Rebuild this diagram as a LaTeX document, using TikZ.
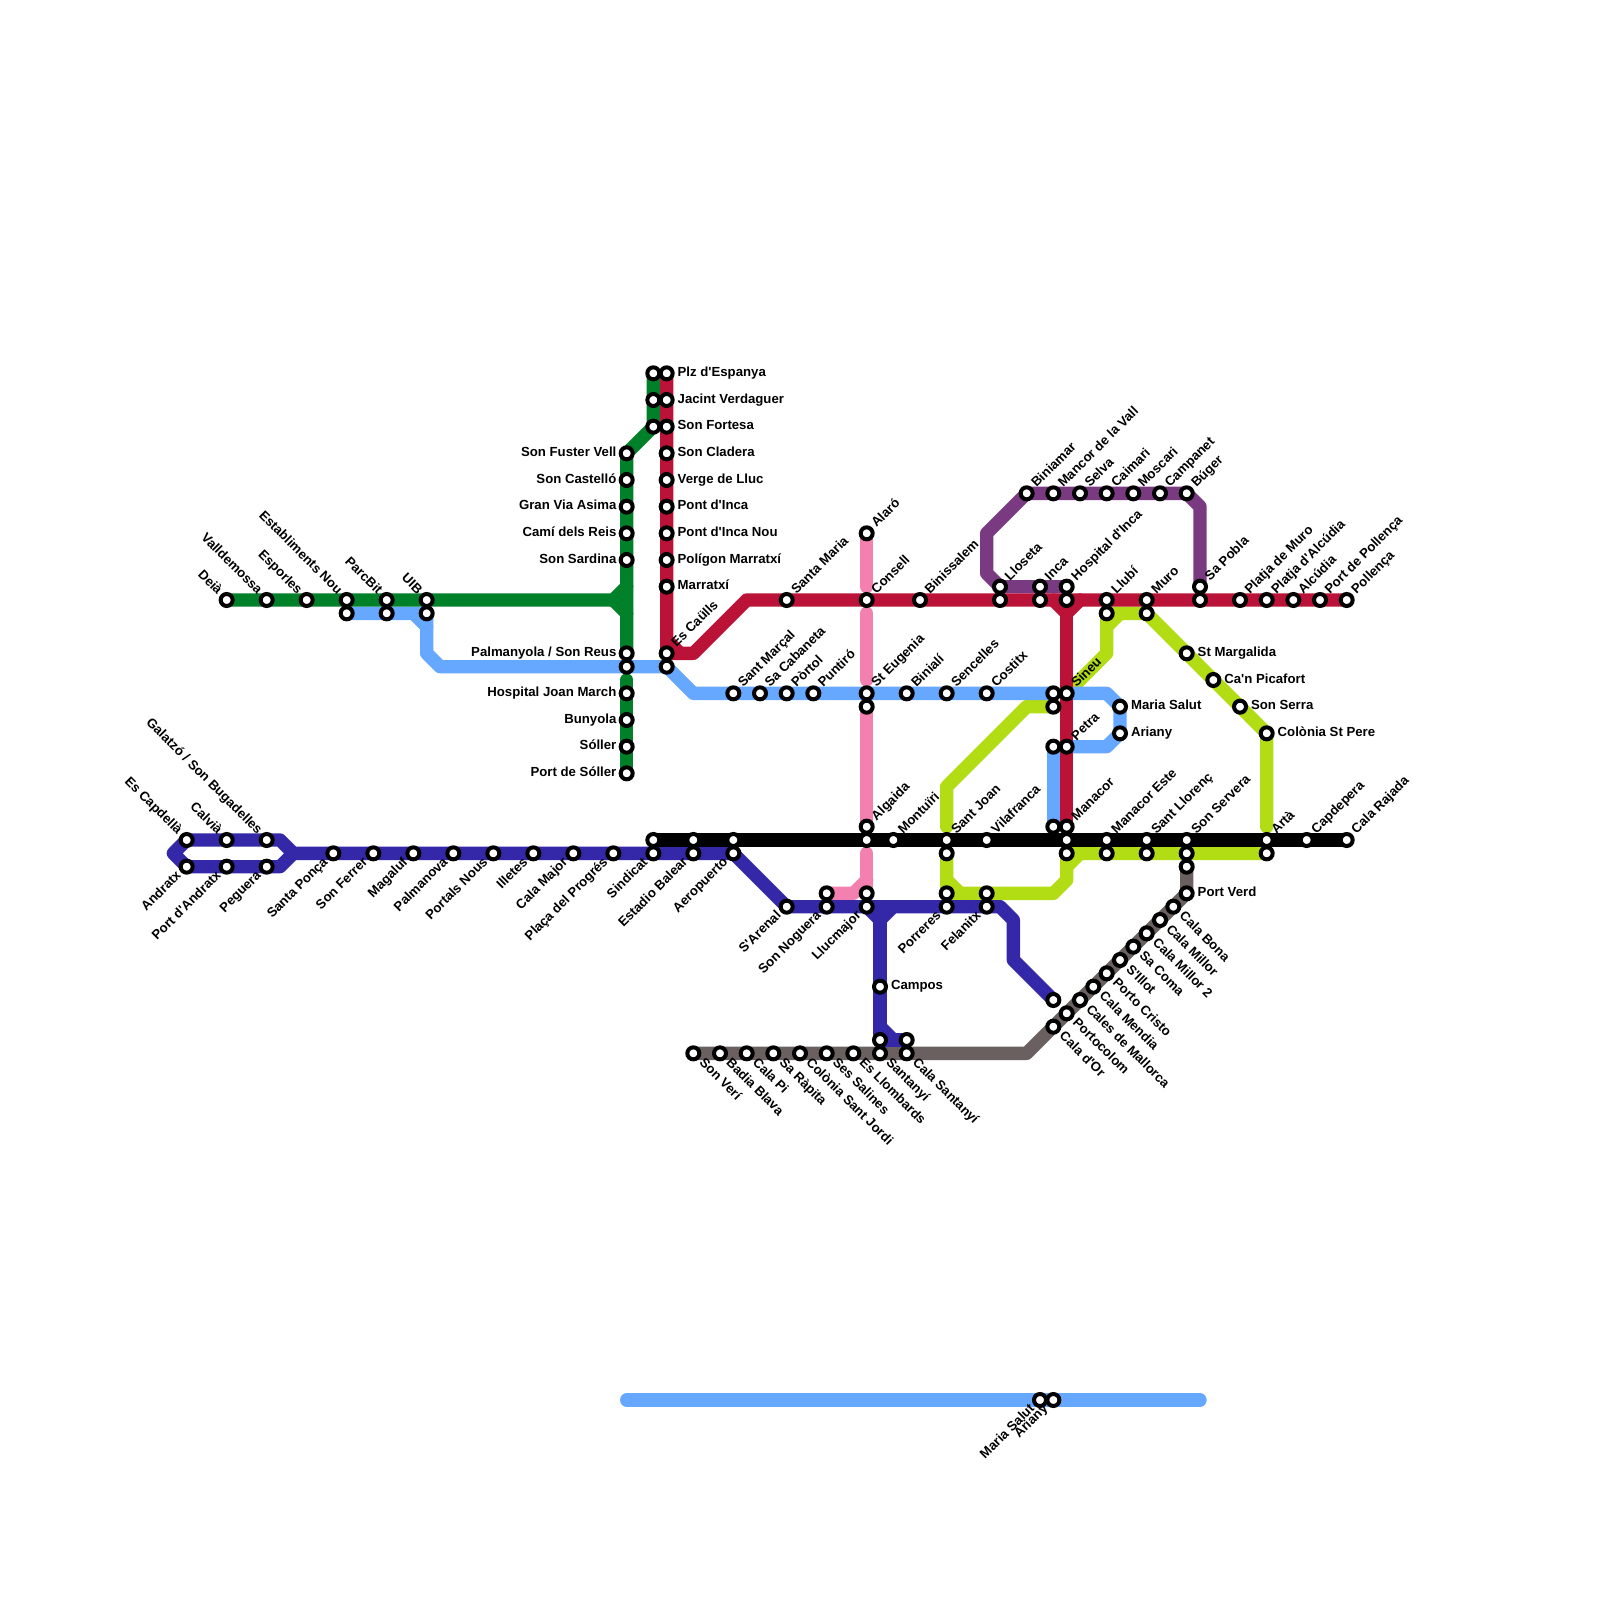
\documentclass[tikz,border=0pt]{standalone}
\usepackage{fontspec}
\usetikzlibrary{backgrounds}
\newfontfamily\mapfont{Liberation Sans}
\definecolor{linegreen}{RGB}{0,128,41}
\definecolor{linered}{RGB}{187,18,56}
\definecolor{lineblue}{RGB}{102,168,255}
\definecolor{linepink}{RGB}{244,128,176}
\definecolor{linenavy}{RGB}{52,40,168}
\definecolor{linepurple}{RGB}{122,58,130}
\definecolor{linelime}{RGB}{178,220,20}
\definecolor{linegray}{RGB}{106,96,96}
\tikzset{
    metro/.style={line width=0.2cm, line cap=round, line join=round},
    station/.style={circle, draw=black, fill=white, line width=1.71pt, minimum size=5.12pt, inner sep=0pt},
    stname/.style={font=\mapfont\bfseries\fontsize{5.63}{6}\selectfont, inner sep=0pt, text=black},
    lble/.style={stname, anchor=base west, xshift=4.5pt, yshift=-1.37pt},
    lblw/.style={stname, anchor=base east, xshift=-4.2pt, yshift=-1.37pt},
    lblne/.style={stname, anchor=base west, rotate=45, xshift=4.5pt, yshift=-1.37pt},
    lblse/.style={stname, anchor=base west, rotate=-45, xshift=4.5pt, yshift=-1.37pt},
    lblnw/.style={stname, anchor=base east, rotate=-45, xshift=-4.2pt, yshift=-1.37pt},
    lblsw/.style={stname, anchor=base east, rotate=45, xshift=-4.2pt, yshift=-1.37pt},
}

\begin{document}
\begin{tikzpicture}[x=0.2cm, y=-0.2cm]
    \useasboundingbox (0,0) rectangle (120,120);

    % Stations named to the upper left
    \foreach \sid/\sx/\sy/\stxt in {deia/17/45/Deià, valldemossa/20/45/Valldemossa, esporles/23/45/Esporles,
        establiments/26/45/Establiments Nou, parcbit/29/45/ParcBit, uib/32/45/UIB,
        capdella/14/63/Es Capdellà, calvia/17/63/Calvià, galatzo/20/63/{Galatzó / Son Bugadelles}} {
        \node[station] (\sid) at (\sx,\sy) {};
        \node[lblnw] (\sid-t) at (\sid.center) {\stxt};
    }

    % Stations named to the lower left
    \foreach \sid/\sx/\sy/\stxt in {andratx/14/65/Andratx, portandratx/17/65/Port d'Andratx, peguera/20/65/Peguera,
        santaponca/25/64/Santa Ponça, sonferrer/28/64/Son Ferrer, magaluf/31/64/Magaluf, palmanova/34/64/Palmanova,
        portals/37/64/Portals Nous, illetes/40/64/Illetes, calamajor/43/64/Cala Major, progres/46/64/Plaça del Progrés,
        sindicat/49/64/Sindicat, estadio/52/64/Estadio Balear, aeropuerto/55/64/Aeropuerto, sarenal/59/68/S'Arenal,
        sonnoguera/62/68/Son Noguera, llucmajor/65/68/Llucmajor, porreres/71/68/Porreres, felanitx/74/68/Felanitx,
        salutnew/78/105/Maria Salut, arianynew/79/105/Ariany} {
        \node[station] (\sid) at (\sx,\sy) {};
        \node[lblsw] (\sid-t) at (\sid.center) {\stxt};
    }

    % Stations named to the left
    \foreach \sid/\sx/\sy/\stxt in {sonfuster/47/34/Son Fuster Vell, castello/47/36/Son Castelló, granvia/47/38/Gran Via Asima,
        camidels/47/40/Camí dels Reis, sardina/47/42/Son Sardina, palmanyola/47/49/{Palmanyola / Son Reus},
        hospjoan/47/52/Hospital Joan March, bunyola/47/54/Bunyola, soller/47/56/Sóller, portsoller/47/58/Port de Sóller} {
        \node[station] (\sid) at (\sx,\sy) {};
        \node[lblw] (\sid-t) at (\sid.center) {\stxt};
    }

    % Stations named to the right
    \foreach \sid/\sx/\sy/\stxt in {espanya/50/28/Plz d'Espanya, jacint/50/30/Jacint Verdaguer, fortesa/50/32/Son Fortesa,
        cladera/50/34/Son Cladera, verge/50/36/Verge de Lluc, pontinca/50/38/Pont d'Inca, pontnou/50/40/Pont d'Inca Nou,
        poligon/50/42/Polígon Marratxí, marratxi/50/44/Marratxí, campos/66/74/Campos, salut/84/53/Maria Salut,
        ariany/84/55/Ariany, margalida/89/49/St Margalida, picafort/91/51/Ca'n Picafort, sonserra/93/53/Son Serra,
        stpere/95/55/Colònia St Pere, portverd/89/67/Port Verd} {
        \node[station] (\sid) at (\sx,\sy) {};
        \node[lble] (\sid-t) at (\sid.center) {\stxt};
    }

    % Stations named to the upper right
    \foreach \sid/\sx/\sy/\stxt in {caulls/50/49/Es Caülls, santamaria/59/45/Santa Maria, alaro/65/40/Alaró, consell/65/45/Consell,
        binissalem/69/45/Binissalem, biniamar/77/37/Biniamar, mancor/79/37/Mancor de la Vall, selva/81/37/Selva,
        caimari/83/37/Caimari, moscari/85/37/Moscari, campanet/87/37/Campanet, buger/89/37/Búger, lloseta/75/44/Lloseta,
        inca/78/44/Inca, hospinca/80/44/Hospital d'Inca, llubi/83/45/Llubí, muro/86/45/Muro, sapobla/90/44/Sa Pobla,
        platjamuro/93/45/Platja de Muro, platjaalc/95/45/Platja d'Alcúdia, alcudia/97/45/Alcúdia,
        portpollenca/99/45/Port de Pollença, pollenca/101/45/Pollença, marcal/55/52/Sant Marçal, cabaneta/57/52/Sa Cabaneta,
        portol/59/52/Pòrtol, puntiro/61/52/Puntiró, eugenia/65/52/St Eugenia, biniali/68/52/Binialí, sencelles/71/52/Sencelles,
        costitx/74/52/Costitx, sineu/80/52/Sineu, petra/80/56/Petra, algaida/65/62/Algaida, montuiri/67/63/Montuïri,
        santjoan/71/63/Sant Joan, vilafranca/74/63/Vilafranca, manacor/80/62/Manacor, manacoreste/83/63/Manacor Este,
        llorenc/86/63/Sant Llorenç, servera/89/63/Son Servera, arta/95/63/Artà, capdepera/98/63/Capdepera,
        rajada/101/63/Cala Rajada} {
        \node[station] (\sid) at (\sx,\sy) {};
        \node[lblne] (\sid-t) at (\sid.center) {\stxt};
    }

    % Stations named to the lower right
    \foreach \sid/\sx/\sy/\stxt in {sonveri/52/79/Son Verí, badia/54/79/Badia Blava, calapi/56/79/Cala Pi, rapita/58/79/Sa Ràpita,
        santjordi/60/79/Colònia Sant Jordi, salines/62/79/Ses Salines, llombards/64/79/Es Llombards, santanyi/66/79/Santanyí,
        calasantanyi/68/79/Cala Santanyí, calador/79/77/Cala d'Or, portocolom/80/76/Portocolom, cales/81/75/Cales de Mallorca,
        mendia/82/74/Cala Mendia, cristo/83/73/Porto Cristo, sillot/84/72/S'Illot, sacoma/85/71/Sa Coma,
        millortwo/86/70/Cala Millor 2, millor/87/69/Cala Millor, bona/88/68/Cala Bona} {
        \node[station] (\sid) at (\sx,\sy) {};
        \node[lblse] (\sid-t) at (\sid.center) {\stxt};
    }

    % Stations without a name
    \foreach \sid/\sx/\sy in {establb/26/46, parcbb/29/46, uibb/32/46, reusb/47/50, espb/49/28, jacb/49/30, fortb/49/32,
        caullsb/50/50, eugb/65/53, llosb/75/45, incab/78/45, hospb/80/45, llubb/83/46, murob/86/46, poblb/90/45,
        sineub/79/52, sineuc/79/53, petrab/79/56, manab/79/62, sindb/49/63, estb/52/63, aerob/55/63, consb/65/63,
        joanb/71/64, manac/80/63, manad/80/64, estec/83/64, llorb/86/64, servb/89/64, servc/89/65, artab/95/64,
        nogub/62/67, llucb/65/67, porrb/71/67, felb/74/67, santb/66/78, calab/68/78, navyend/79/75} {
        \node[station] (\sid) at (\sx,\sy) {};
    }

    % Free line ends
    \coordinate (pinkA) at (65,44);
    \coordinate (pinkB) at (65,46);
    \coordinate (pinkC) at (65,51);
    \coordinate (pinkD) at (65,64);
    \coordinate (greenA) at (47,51);
    \coordinate (limeA) at (71,62);
    \coordinate (limeB) at (95,62);
    \coordinate (newA) at (47,105);
    \coordinate (newB) at (90,105);

    \begin{scope}[on background layer]
        % Pink line
        \draw[metro, linepink] (alaro.center) -- (pinkA);
        \draw[metro, linepink] (pinkB) -- (pinkC);
        \draw[metro, linepink] (eugb.center) -- (algaida.center);
        \draw[metro, linepink] (pinkD) -- (llucb.center);
        \draw[metro, linepink] (65,66) -- (64,67) -- (nogub.center);

        % Purple line
        \draw[metro, linepurple] (hospinca.center) -- (lloseta.center) -- (74,43) -- (74,40) -- (biniamar.center)
            -- (buger.center) -- (90,38) -- (sapobla.center);

        % Gray line
        \draw[metro, linegray] (sonveri.center) -- (77,79) -- (calador.center) -- (portverd.center) -- (servc.center);

        % Lime lines
        \draw[metro, linelime] (sineuc.center) -- (77,53) -- (71,59) -- (limeA);
        \draw[metro, linelime] (artab.center) -- (manad.center) -- (80,66) -- (79,67) -- (porrb.center) -- (joanb.center);
        \draw[metro, linelime] (81,64) -- (80,65);
        \draw[metro, linelime] (71,66) -- (72,67);
        \draw[metro, linelime] (sineu.center) -- (83,49) -- (llubb.center) -- (murob.center) -- (stpere.center) -- (limeB);
        \draw[metro, linelime] (84,46) -- (83,47);

        % Blue lines
        \draw[metro, lineblue] (establb.center) -- (uibb.center) -- (32,49) -- (33,50) -- (caullsb.center) -- (52,52) -- (sineub.center);
        \draw[metro, lineblue] (31,46) -- (32,47);
        \draw[metro, lineblue] (sineu.center) -- (83,52) -- (salut.center) -- (ariany.center) -- (83,56) -- (petra.center);
        \draw[metro, lineblue] (petrab.center) -- (manab.center);
        \draw[metro, lineblue] (newA) -- (newB);

        % Green lines
        \draw[metro, linegreen] (espb.center) -- (fortb.center) -- (sonfuster.center) -- (palmanyola.center);
        \draw[metro, linegreen] (deia.center) -- (46,45) -- (47,44);
        \draw[metro, linegreen] (46,45) -- (47,46);
        \draw[metro, linegreen] (greenA) -- (portsoller.center);

        % Navy line
        \draw[metro, linenavy] (22,64) -- (21,63) -- (capdella.center) -- (13,64) -- (andratx.center) -- (21,65) -- cycle;
        \draw[metro, linenavy] (22,64) -- (aeropuerto.center) -- (sarenal.center) -- (75,68) -- (76,69) -- (76,72) -- (navyend.center);
        \draw[metro, linenavy] (llucmajor.center) -- (66,69) -- (67,68);
        \draw[metro, linenavy] (66,69) -- (santb.center) -- (calab.center);
        \draw[metro, linenavy] (66,77) -- (67,78);

        % Red lines
        \draw[metro, linered] (espanya.center) -- (caulls.center) -- (52,49) -- (56,45) -- (pollenca.center);
        \draw[metro, linered] (50,48) -- (51,49);
        \draw[metro, linered] (79,45) -- (80,46) -- (81,45);
        \draw[metro, linered] (80,46) -- (manacor.center);

        % Black line
        \draw[metro, black] (sindb.center) -- (rajada.center);
    \end{scope}
\end{tikzpicture}
\end{document}
